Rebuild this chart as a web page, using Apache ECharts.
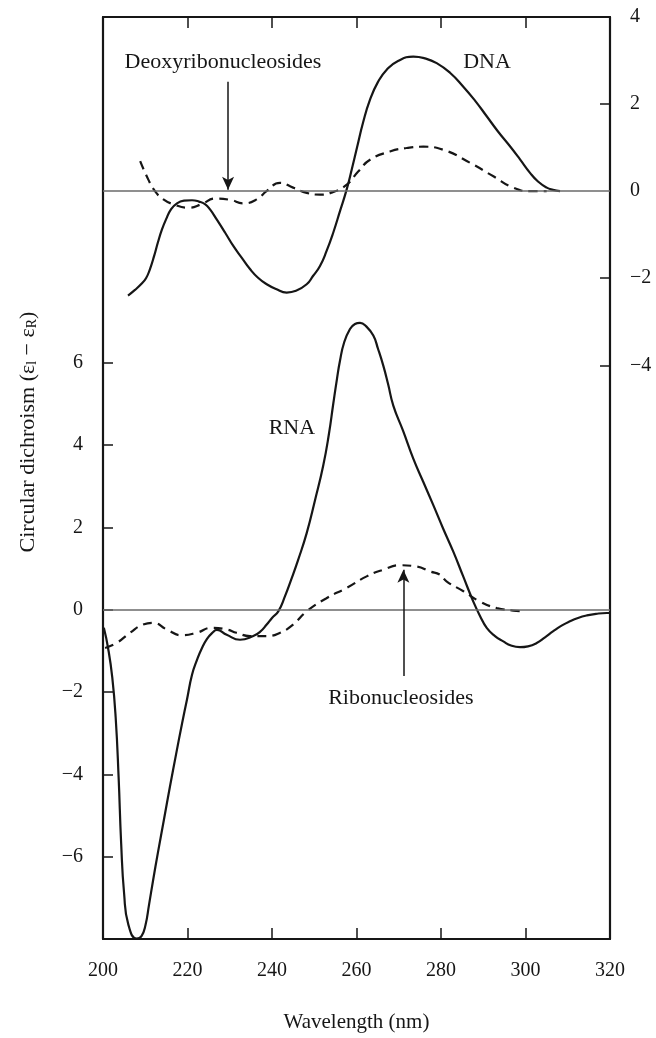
<!DOCTYPE html>
<html>
<head>
<meta charset="utf-8">
<script src="https://cdn.jsdelivr.net/npm/echarts@6/dist/echarts.min.js"></script>
<style>
html,body{margin:0;padding:0;background:#fff;}
#chart{width:656px;height:1038px;}
</style>
</head>
<body>
<div id="chart"></div>
<script>
// Wavelength ticks (nm)
const xTickLabels = [200, 220, 240, 260, 280, 300, 320];
const xInnerTicks = [220, 240, 260, 280, 300];
// Left axis (RNA / ribonucleosides) tick labels
const leftTickLabels = [-6, -4, -2, 0, 2, 4, 6];
// Right axis (DNA / deoxyribonucleosides) tick labels
const rightTickLabels = [-4, -2, 0, 2, 4];

// DNA (solid, right axis): [wavelength nm, CD]
const dnaCurve = [
  [205.92,-2.40],[207.57,-2.27],[208.99,-2.14],[210.18,-2.00],[211.12,-1.79],[212.07,-1.50],
  [213.02,-1.17],[213.96,-0.88],[214.91,-0.65],[216.09,-0.42],[217.51,-0.28],[219.17,-0.22],
  [221.07,-0.21],[222.72,-0.24],[224.14,-0.30],[225.33,-0.42],[226.91,-0.65],[228.88,-0.95],
  [230.84,-1.26],[232.90,-1.54],[234.79,-1.79],[236.69,-1.99],[238.75,-2.14],[240.95,-2.25],
  [243.48,-2.33],[245.68,-2.29],[248.21,-2.14],[249.70,-1.95],[251.36,-1.72],[252.90,-1.38],
  [254.51,-0.95],[256.09,-0.46],[257.68,0.04],[258.93,0.52],[260.12,1.00],[261.54,1.57],
  [263.20,2.10],[265.09,2.51],[267.15,2.79],[269.82,2.99],[273.44,3.09],[276.21,3.05],
  [278.98,2.94],[282.13,2.72],[285.28,2.40],[288.05,2.08],[290.82,1.72],[293.49,1.37],
  [296.33,1.03],[298.70,0.73],[301.07,0.42],[302.96,0.22],[305.02,0.08],[306.51,0.03],
  [308.17,0.00]
];
// Deoxyribonucleosides (dashed, right axis)
const deoxyCurve = [
  [208.8,0.69],[210.7,0.27],[212.3,0.00],[214.3,-0.19],[216.6,-0.30],[220.2,-0.38],
  [223.3,-0.30],[226.5,-0.17],[230.1,-0.20],[233.2,-0.28],[236.4,-0.19],[238.7,0.00],
  [241.9,0.19],[245.0,0.08],[248.2,-0.04],[251.4,-0.08],[254.5,-0.02],[257.7,0.15],
  [260.4,0.45],[263.2,0.72],[267.9,0.91],[271.8,0.99],[275.8,1.02],[280.5,0.95],
  [286.9,0.65],[292.4,0.34],[297.1,0.08],[301.1,0.00],[305.0,0.00]
];
// RNA (solid, left axis)
const rnaCurve = [
  [200.2,-0.44],[201.2,-0.93],[202.2,-1.65],[203.0,-2.62],[203.7,-4.08],[204.3,-5.68],
  [205.0,-6.90],[206.0,-7.65],[207.98,-7.99],[209.11,-7.93],[210.06,-7.66],[210.89,-7.17],
  [211.83,-6.59],[213.02,-5.89],[214.44,-5.09],[215.86,-4.29],[217.28,-3.52],[218.70,-2.77],
  [219.88,-2.18],[221.07,-1.58],[222.25,-1.22],[223.43,-0.93],[224.62,-0.71],[225.80,-0.57],
  [226.98,-0.49],[229.28,-0.61],[232.43,-0.73],[235.57,-0.64],[237.16,-0.54],[238.75,-0.36],
  [240.00,-0.20],[241.49,-0.04],[243.08,0.33],[244.50,0.72],[246.15,1.20],[248.21,1.86],
  [250.18,2.66],[252.14,3.51],[253.49,4.28],[254.51,5.01],[255.38,5.61],[256.09,6.05],
  [257.04,6.48],[258.46,6.82],[259.64,6.94],[260.83,6.97],[262.25,6.89],[263.98,6.66],
  [265.09,6.34],[266.34,5.93],[267.46,5.49],[268.71,4.96],[271.01,4.35],[273.44,3.67],
  [275.74,3.12],[278.18,2.54],[280.47,1.98],[282.91,1.41],[285.21,0.82],[287.64,0.20],
  [289.23,-0.15],[290.82,-0.44],[292.78,-0.64],[294.75,-0.77],[296.57,-0.87],[298.70,-0.91],
  [300.59,-0.89],[302.65,-0.81],[304.62,-0.67],[306.58,-0.52],[308.64,-0.38],[310.53,-0.28],
  [312.43,-0.20],[314.48,-0.14],[316.69,-0.10],[319.22,-0.08],[320.0,-0.08]
];
// Ribonucleosides (dashed, left axis)
const riboCurve = [
  [200.5,-0.93],[203.2,-0.81],[206.4,-0.56],[209.5,-0.36],[211.9,-0.32],[215.1,-0.48],
  [218.6,-0.62],[222.2,-0.56],[225.7,-0.44],[229.3,-0.48],[231.6,-0.56],[234.8,-0.64],
  [238.7,-0.64],[241.9,-0.56],[245.0,-0.36],[248.2,-0.04],[252.9,0.28],[257.7,0.53],
  [262.4,0.81],[266.3,0.97],[270.3,1.08],[274.2,1.05],[277.4,0.93],[279.8,0.85],
  [281.3,0.69],[285.3,0.45],[289.2,0.20],[293.2,0.04],[297.1,-0.02],[299.5,-0.04]
];

const FONT = '"Liberation Serif", "DejaVu Serif", serif';
const INK = '#161616';
const fmt = v => (v < 0 ? '\u2212' + Math.abs(v) : String(v));

const chart = echarts.init(document.getElementById('chart'), null, {renderer: 'canvas'});

const textLabel = (size) => ({
  show: true, position: 'inside', formatter: '{b}',
  color: INK, fontFamily: FONT, fontSize: size
});
const hiddenSym = {color: 'rgba(0,0,0,0)'};
const curveStyle = {showSymbol: false, smooth: 0.5, clip: true};
const arrowLine = (x, y0, y1) => [
  {coord: [x, y0], symbol: 'none', symbolSize: 0},
  {coord: [x, y1], symbol: 'arrow', symbolSize: [9, 13]}
];

const option = {
  animation: false,
  backgroundColor: '#fff',
  grid: {left: 103, right: 46, top: 17, bottom: 96, containLabel: false},
  xAxis: [
    {
      type: 'value', min: 200, max: 320, position: 'bottom',
      axisLine: {show: true, onZero: false, lineStyle: {color: INK, width: 2.2}},
      axisTick: {show: true, inside: true, length: 11, customValues: xInnerTicks, lineStyle: {color: INK, width: 1.5}},
      axisLabel: {customValues: xTickLabels, margin: 22, color: INK, fontFamily: FONT, fontSize: 20},
      splitLine: {show: false},
      name: 'Wavelength (nm)', nameLocation: 'middle', nameGap: 73,
      nameTextStyle: {color: INK, fontFamily: FONT, fontSize: 21}
    },
    {
      type: 'value', min: 200, max: 320, position: 'top',
      axisLine: {show: true, onZero: false, lineStyle: {color: INK, width: 2.2}},
      axisTick: {show: true, inside: true, length: 11, customValues: xInnerTicks, lineStyle: {color: INK, width: 1.5}},
      axisLabel: {show: false},
      splitLine: {show: false}
    }
  ],
  yAxis: [
    {
      type: 'value', min: -8, max: 14.4, position: 'left',
      axisLine: {show: true, onZero: false, lineStyle: {color: INK, width: 2.2}},
      axisTick: {show: true, inside: true, length: 10, customValues: leftTickLabels, lineStyle: {color: INK, width: 1.5}},
      axisLabel: {customValues: leftTickLabels, formatter: fmt, margin: 20, color: INK, fontFamily: FONT, fontSize: 20},
      splitLine: {show: false}
    },
    {
      type: 'value', min: -17.18, max: 4, position: 'right',
      axisLine: {show: true, onZero: false, lineStyle: {color: INK, width: 2.2}},
      axisTick: {show: true, inside: true, length: 10, customValues: [-4, -2, 2], lineStyle: {color: INK, width: 1.5}},
      axisLabel: {customValues: rightTickLabels, formatter: fmt, margin: 20, color: INK, fontFamily: FONT, fontSize: 20},
      splitLine: {show: false}
    }
  ],
  series: [
    Object.assign({
      name: 'RNA', type: 'line', xAxisIndex: 0, yAxisIndex: 0, data: rnaCurve,
      lineStyle: {color: INK, width: 2.2},
      markLine: {
        silent: true, symbol: 'none', label: {show: false},
        lineStyle: {color: '#6a6a6a', width: 1.6, type: 'solid'},
        data: [{yAxis: 0}]
      },
      markPoint: {
        silent: true, symbol: 'rect', symbolSize: 1, itemStyle: hiddenSym,
        label: textLabel(22),
        data: [{name: 'RNA', coord: [244.7, 4.40]}]
      }
    }, curveStyle),
    Object.assign({
      name: 'Ribonucleosides', type: 'line', xAxisIndex: 0, yAxisIndex: 0, data: riboCurve,
      lineStyle: {color: INK, width: 2.2, type: [9, 6]},
      markLine: {
        silent: true, label: {show: false},
        lineStyle: {color: INK, width: 1.5, type: 'solid'},
        symbol: ['none', 'arrow'],
        data: [arrowLine(271.1, -1.61, 0.97)]
      },
      markPoint: {
        silent: true, symbol: 'rect', symbolSize: 1, itemStyle: hiddenSym,
        label: textLabel(22),
        data: [{name: 'Ribonucleosides', coord: [270.5, -2.14]}]
      }
    }, curveStyle),
    Object.assign({
      name: 'DNA', type: 'line', xAxisIndex: 0, yAxisIndex: 1, data: dnaCurve,
      lineStyle: {color: INK, width: 2.2},
      markLine: {
        silent: true, symbol: 'none', label: {show: false},
        lineStyle: {color: '#6a6a6a', width: 1.6, type: 'solid'},
        data: [{yAxis: 0}]
      },
      markPoint: {
        silent: true, symbol: 'rect', symbolSize: 1, itemStyle: hiddenSym,
        label: textLabel(22),
        data: [{name: 'DNA', coord: [290.9, 2.95]}]
      }
    }, curveStyle),
    Object.assign({
      name: 'Deoxyribonucleosides', type: 'line', xAxisIndex: 0, yAxisIndex: 1, data: deoxyCurve,
      lineStyle: {color: INK, width: 2.2, type: [9, 6]},
      markLine: {
        silent: true, label: {show: false},
        lineStyle: {color: INK, width: 1.5, type: 'solid'},
        symbol: ['none', 'arrow'],
        data: [arrowLine(229.6, 2.51, 0.03)]
      },
      markPoint: {
        silent: true, symbol: 'rect', symbolSize: 1, itemStyle: hiddenSym,
        label: textLabel(22),
        data: [{name: 'Deoxyribonucleosides', coord: [228.4, 2.95]}]
      }
    }, curveStyle)
  ],
  graphic: [
    {
      type: 'text', x: 28, y: 432, rotation: Math.PI / 2,
      style: {
        text: 'Circular dichroism (\u03b5{sub|l} \u2212 \u03b5{sub|R})',
        fill: INK, font: '22px "Liberation Serif", serif',
        align: 'center', verticalAlign: 'middle',
        rich: {sub: {fontSize: 14, fontFamily: FONT, fill: INK, padding: [8, 0, 0, 0]}}
      }
    }
  ]
};
chart.setOption(option);
</script>
</body>
</html>
